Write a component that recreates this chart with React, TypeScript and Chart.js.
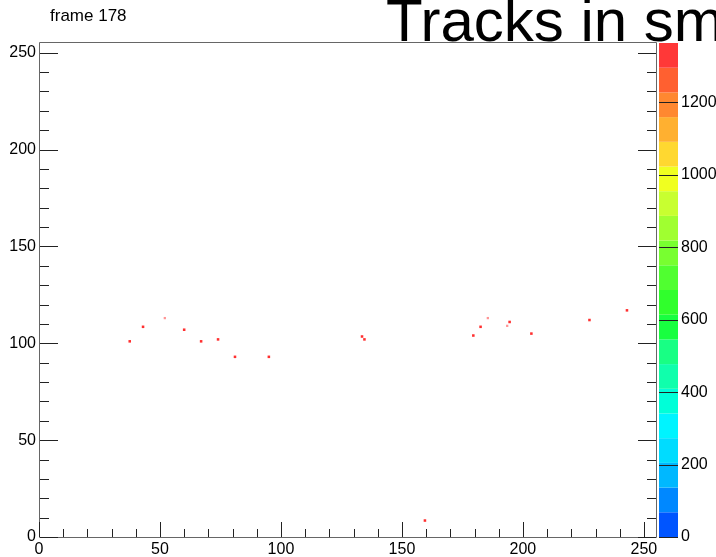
import React, { useEffect, useRef } from 'react';
import { Chart, registerables } from 'chart.js';

Chart.register(...registerables);

// ---- data ----
const titleText = 'Tracks in sm';
const frameLabel = 'frame 178';
const axisMin = 0;
const axisMax = 255;
const axisTickValues = [0, 50, 100, 150, 200, 250];
const axisMinorStep = 10;

// hit positions (bin centres)
const hitX = [37.5, 43, 60, 67, 74, 81, 95, 133.5, 134.5, 159.5, 179.5, 182.5, 194.5, 203.5, 227.5, 243];
const hitY = [101, 108.5, 107, 101, 102, 93, 93, 103.5, 102, 8.5, 104, 108.5, 111, 105, 112, 117];
// fainter hits
const faintX = [52, 185.5, 193.5];
const faintY = [113, 113, 109];

// colour scale
const zMin = 0;
const zMax = 1364;
const zTickValues = [0, 200, 400, 600, 800, 1000, 1200];
const paletteColors = [
  '#0055ff', '#0088ff', '#00b8ff', '#00dcff', '#00f4ff',
  '#00ffd8', '#10ffac', '#18ff84', '#18ff40', '#30ff2c',
  '#50ff30', '#78ff30', '#a0ff30', '#c8ff30', '#f0ff20',
  '#ffd830', '#ffb030', '#ff8830', '#ff6030', '#ff3838',
];

const FONT = '"Liberation Sans", Arial, Helvetica, sans-serif';

const rootPlugin = {
  id: 'rootFrame',
  afterDraw(chart: any) {
    const ctx = chart.ctx as CanvasRenderingContext2D;
    const { left, right, top, bottom } = chart.chartArea;
    const xs = chart.scales.x;
    const ys = chart.scales.y;
    const zs = chart.scales.z;
    ctx.save();

    // colour bar
    const barL = right + 3;
    const barW = 19;
    const n = paletteColors.length;
    for (let i = 0; i < n; i++) {
      const v0 = zMin + (i * (zMax - zMin)) / n;
      const v1 = zMin + ((i + 1) * (zMax - zMin)) / n;
      const y0 = zs.getPixelForValue(v0);
      const y1 = zs.getPixelForValue(v1);
      ctx.fillStyle = paletteColors[i];
      ctx.fillRect(barL, y1, barW, y0 - y1);
    }
    ctx.strokeStyle = '#222';
    ctx.lineWidth = 1;
    ctx.beginPath();
    for (const v of zTickValues) {
      const y = Math.round(zs.getPixelForValue(v)) + 0.5;
      ctx.moveTo(barL, y);
      ctx.lineTo(barL + barW, y);
    }
    ctx.stroke();

    // frame
    ctx.strokeStyle = '#666';
    ctx.beginPath();
    ctx.moveTo(left + 0.5, top - 0.5);
    ctx.lineTo(right + 0.5, top - 0.5);
    ctx.lineTo(right + 0.5, bottom + 0.5);
    ctx.lineTo(left + 0.5, bottom + 0.5);
    ctx.closePath();
    ctx.stroke();

    // ticks
    ctx.strokeStyle = '#222';
    ctx.beginPath();
    for (let v = axisMin; v <= axisMax; v += axisMinorStep) {
      const major = axisTickValues.includes(v);
      const y = Math.round(ys.getPixelForValue(v)) + 0.5;
      const ly = major ? 18 : 9;
      ctx.moveTo(left + 1, y);
      ctx.lineTo(left + 1 + ly, y);
      ctx.moveTo(right, y);
      ctx.lineTo(right - ly, y);
      const x = Math.round(xs.getPixelForValue(v)) + 0.5;
      const lx = major ? 15 : 8;
      ctx.moveTo(x, bottom);
      ctx.lineTo(x, bottom - lx);
    }
    ctx.stroke();

    // texts
    ctx.fillStyle = '#000';
    ctx.textBaseline = 'alphabetic';
    ctx.textAlign = 'left';
    ctx.font = `17px ${FONT}`;
    ctx.fillText(frameLabel, 50, 21);
    ctx.font = `60px ${FONT}`;
    ctx.fillText(titleText, 386, 41);
    ctx.restore();
  },
};

const fixedTicks = (values: number[]) => (s: any) => {
  s.ticks = values.map((v) => ({ value: v }));
};

const fixSize = (w: number | null, h: number | null) => (s: any) => {
  if (w !== null) s.width = w;
  if (h !== null) s.height = h;
  s.paddingTop = 0;
  s.paddingBottom = 0;
  s.paddingLeft = 0;
  s.paddingRight = 0;
};

const plainLabel = (v: any) => String(v);

export default function App() {
  const ref = useRef<HTMLCanvasElement | null>(null);
  useEffect(() => {
    document.body.style.margin = '0';
    const canvas = ref.current;
    if (!canvas) return;
    const tickFont = { family: FONT, size: 16 };
    const noGrid = { display: false, drawTicks: false, tickLength: 0 };
    const chart = new Chart(canvas, {
      type: 'scatter',
      data: {
        datasets: [
          {
            data: hitX.map((x, i) => ({ x, y: hitY[i] })),
            pointStyle: 'rect',
            pointRadius: 1.8,
            pointBorderWidth: 0,
            backgroundColor: '#ff3030',
            borderColor: 'rgba(0,0,0,0)',
          },
          {
            data: faintX.map((x, i) => ({ x, y: faintY[i] })),
            pointStyle: 'rect',
            pointRadius: 1.6,
            pointBorderWidth: 0,
            backgroundColor: 'rgba(255,60,60,0.55)',
            borderColor: 'rgba(0,0,0,0)',
          },
        ],
      },
      options: {
        animation: false,
        responsive: false,
        devicePixelRatio: 1,
        layout: { padding: { top: 43, left: 0, right: 0, bottom: 0 }, autoPadding: false },
        plugins: { legend: { display: false }, tooltip: { enabled: false }, title: { display: false } },
        events: [],
        scales: {
          x: {
            type: 'linear',
            position: 'bottom',
            min: axisMin,
            max: axisMax,
            grid: noGrid,
            border: { display: false },
            ticks: { font: tickFont, color: '#000', padding: 3, maxRotation: 0, autoSkip: false, callback: plainLabel },
            afterBuildTicks: fixedTicks(axisTickValues),
            afterFit: fixSize(null, 20),
          },
          y: {
            type: 'linear',
            position: 'left',
            min: axisMin,
            max: axisMax,
            grid: noGrid,
            border: { display: false },
            ticks: { font: tickFont, color: '#000', padding: 3, autoSkip: false, callback: plainLabel },
            afterBuildTicks: fixedTicks(axisTickValues),
            afterFit: fixSize(39, null),
          },
          z: {
            type: 'linear',
            position: 'right',
            min: zMin,
            max: zMax,
            grid: noGrid,
            border: { display: false },
            ticks: { font: tickFont, color: '#000', padding: 25, autoSkip: false, callback: plainLabel },
            afterBuildTicks: fixedTicks(zTickValues),
            afterFit: fixSize(60, null),
          },
        },
      },
      plugins: [rootPlugin],
    } as any);
    return () => chart.destroy();
  }, []);
  return <canvas ref={ref} width={716} height={557} style={{ display: 'block' }} />;
}
